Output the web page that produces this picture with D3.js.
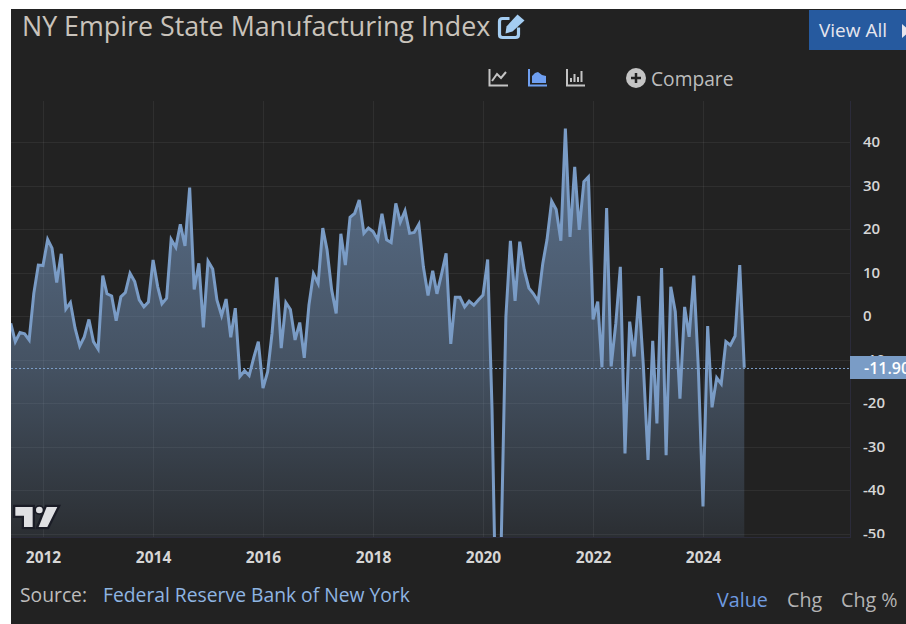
<!DOCTYPE html>
<html>
<head>
<meta charset="utf-8">
<script src="https://cdn.jsdelivr.net/npm/d3@7"></script>
<style>
  html, body { margin: 0; padding: 0; background: #fff; overflow: hidden; }
  svg { display: block; }
  text { font-family: "Open Sans", sans-serif; }
  .y-axis text { font-weight: 600; font-size: 15px; fill: #d6d6d6; }
  .x-axis text { font-weight: 700; font-size: 15.5px; fill: #d6d6d6; }
  .y-axis path, .y-axis line, .x-axis path, .x-axis line { display: none; }
</style>
</head>
<body>
<div id="chart"></div>
<script>
// monthly readings, first one is June 2011
let startMonth = new Date(Date.UTC(2011, 5, 1));
let indexValues = [
  -1.7, -5.9, -3.8, -4.1, -5.5, 5.2, 11.7,
  11.6, 17.6, 15.6, 7.7, 14.3, 1.6, 3.1, -2.8, -6.9, -4.8, -0.8, -5.9,
  -7.6, 9.3, 5.1, 4.6, -1.1, 4.4, 5.4, 9.8, 7.9, 3.7, 2.1, 3.2,
  12.9, 6.7, 2.8, 4.1, 17.6, 15.8, 21.1, 16.1, 29.5, 6.1, 12.1, -2.6,
  12.6, 10.8, 3.7, 0.1, 3.9, -4.9, 1.8, -13.9, -12.6, -13.7, -9.5, -5.9,
  -16.6, -12.8, -4.0, 8.9, -7.4, 3.1, 1.5, -5.5, -1.5, -9.6, 2.5, 9.7,
  7.5, 20.2, 15.3, 6.0, 0.6, 18.9, 11.7, 22.7, 23.6, 26.7, 19.0, 20.2,
  19.4, 17.5, 23.5, 17.5, 16.9, 25.9, 21.6, 24.2, 19.0, 19.2, 21.1, 11.3,
  4.7, 10.4, 5.1, 9.7, 14.4, -6.4, 4.3, 4.3, 2.1, 3.4, 2.5, 3.7,
  4.8, 13.0, -21.5, -78.0, -52.0, -0.2, 17.3, 3.5, 17.1, 10.6, 6.4, 5.1,
  3.4, 12.1, 17.5, 26.4, 24.5, 17.3, 43.1, 18.2, 34.3, 19.8, 30.9, 32.0,
  -0.8, 3.3, -11.8, 24.8, -11.6, -1.7, 11.3, -31.6, -1.3, -9.3, 4.6, -11.5,
  -33.1, -5.7, -24.7, 11.0, -32.0, 6.7, 1.0, -19.0, 2.1, -4.8, 9.3, -12.0,
  -43.8, -2.3, -21.0, -14.2, -15.6, -5.9, -6.7, -4.6, 11.7, -11.9
];
let yearTicks = [2012, 2014, 2016, 2018, 2020, 2022, 2024];
let valueTicks = [40, 30, 20, 10, 0, -10, -20, -30, -40, -50];
let lastValue = -11.9;
let toggleLabels = ["Value", "Chg", "Chg %"];

let data = indexValues.map((v, i) => ({
  date: d3.utcMonth.offset(startMonth, i),
  value: v
}));

let width = 906, height = 624;
let plot = { left: 11, right: 850, top: 101, bottom: 538 };
let lineColor = "#7a9cc6";

let xScale = d3.scaleUtc()
  .domain([new Date(Date.UTC(2012, 0, 1)), new Date(Date.UTC(2024, 0, 1))])
  .range([43, 703]);
let yScale = d3.scaleLinear()
  .domain([0, 40])
  .range([316, 142]);

let svg = d3.select("#chart").append("svg")
  .attr("width", width)
  .attr("height", height);

// panel
svg.append("rect")
  .attr("x", 11).attr("y", 9)
  .attr("width", width - 11).attr("height", height - 9)
  .attr("fill", "#222222");

let defs = svg.append("defs");
defs.append("clipPath").attr("id", "plot-clip")
  .append("rect")
  .attr("x", plot.left).attr("y", plot.top)
  .attr("width", plot.right - plot.left).attr("height", plot.bottom - plot.top);
defs.append("clipPath").attr("id", "axis-clip")
  .append("rect")
  .attr("x", plot.right).attr("y", plot.top)
  .attr("width", width - plot.right).attr("height", plot.bottom - plot.top);

let gradient = defs.append("linearGradient")
  .attr("id", "area-fill")
  .attr("gradientUnits", "userSpaceOnUse")
  .attr("x1", 0).attr("x2", 0)
  .attr("y1", 130).attr("y2", plot.bottom);
gradient.append("stop").attr("offset", 0).attr("stop-color", lineColor).attr("stop-opacity", 0.65);
gradient.append("stop").attr("offset", 0.565).attr("stop-color", lineColor).attr("stop-opacity", 0.4);
gradient.append("stop").attr("offset", 1).attr("stop-color", lineColor).attr("stop-opacity", 0.1);

// grid
let grid = svg.append("g").attr("class", "grid");
grid.selectAll(".h")
  .data(valueTicks)
  .join("line")
  .attr("class", "h")
  .attr("x1", plot.left).attr("x2", plot.right)
  .attr("y1", d => Math.round(yScale(d)) + 0.5)
  .attr("y2", d => Math.round(yScale(d)) + 0.5)
  .attr("stroke", "#ffffff").attr("stroke-opacity", 0.06);
grid.selectAll(".v")
  .data(yearTicks)
  .join("line")
  .attr("class", "v")
  .attr("y1", plot.top).attr("y2", plot.bottom)
  .attr("x1", d => Math.round(xScale(new Date(Date.UTC(d, 0, 1)))) + 0.5)
  .attr("x2", d => Math.round(xScale(new Date(Date.UTC(d, 0, 1)))) + 0.5)
  .attr("stroke", "#ffffff").attr("stroke-opacity", 0.06);

// series
let series = svg.append("g").attr("clip-path", "url(#plot-clip)");
series.append("path")
  .datum(data)
  .attr("fill", "url(#area-fill)")
  .attr("d", d3.area()
    .x(d => xScale(d.date))
    .y0(plot.bottom)
    .y1(d => yScale(d.value)));
series.append("path")
  .datum(data)
  .attr("fill", "none")
  .attr("stroke", lineColor)
  .attr("stroke-width", 3)
  .attr("stroke-linejoin", "miter")
  .attr("d", d3.line()
    .x(d => xScale(d.date))
    .y(d => yScale(d.value)));

// last value line
svg.append("line")
  .attr("x1", plot.left).attr("x2", plot.right)
  .attr("y1", Math.round(yScale(lastValue)) + 0.5)
  .attr("y2", Math.round(yScale(lastValue)) + 0.5)
  .attr("stroke", lineColor)
  .attr("stroke-dasharray", "2 2");

// pane borders
svg.append("line")
  .attr("x1", plot.right + 0.5).attr("x2", plot.right + 0.5)
  .attr("y1", plot.top).attr("y2", plot.bottom)
  .attr("stroke", "#2b2b3a");
svg.append("line")
  .attr("x1", plot.left).attr("x2", plot.right)
  .attr("y1", plot.bottom - 0.5).attr("y2", plot.bottom - 0.5)
  .attr("stroke", "#2b2b3a");

// axes
let yAxis = d3.axisRight(yScale)
  .tickValues(valueTicks)
  .tickFormat(d => d)
  .tickSize(0)
  .tickPadding(0);
svg.append("g")
  .attr("class", "y-axis")
  .attr("clip-path", "url(#axis-clip)")
  .append("g")
  .attr("transform", "translate(863, 0)")
  .call(yAxis);

let xAxis = d3.axisBottom(xScale)
  .tickValues(yearTicks.map(y => new Date(Date.UTC(y, 0, 1))))
  .tickFormat(d3.utcFormat("%Y"))
  .tickSize(0)
  .tickPadding(0);
svg.append("g")
  .attr("class", "x-axis")
  .attr("transform", "translate(0, 552)")
  .call(xAxis);

// last value label
svg.append("rect")
  .attr("x", plot.right).attr("y", 356)
  .attr("width", width - plot.right).attr("height", 23)
  .attr("fill", lineColor);
svg.append("text")
  .attr("x", 864).attr("y", 373.5)
  .attr("fill", "#ffffff")
  .attr("font-size", 16).attr("font-weight", 600)
  .text(lastValue.toFixed(2));

// TradingView mark
let logo = svg.append("g").attr("transform", "translate(0, 495) scale(0.3333)");
let logoShapes = [
  "M46 36H98V96H72V62H46Z",
  "M140 36H172L142 96H116Z"
];
logo.selectAll("path.outline")
  .data(logoShapes)
  .join("path")
  .attr("class", "outline")
  .attr("d", d => d)
  .attr("fill", "#1a1c26").attr("stroke", "#1a1c26").attr("stroke-width", 14);
logo.append("circle").attr("cx", 118).attr("cy", 45).attr("r", 10)
  .attr("fill", "#dfe0e3").attr("stroke", "#1a1c26").attr("stroke-width", 10).attr("paint-order", "stroke");
logo.selectAll("path.shape")
  .data(logoShapes)
  .join("path")
  .attr("class", "shape")
  .attr("d", d => d)
  .attr("fill", "#dfe0e3");

// header
svg.append("text")
  .attr("x", 22).attr("y", 36)
  .attr("fill", "#c9c3bb")
  .attr("font-size", 26.8)
  .text("NY Empire State Manufacturing Index");

// edit icon
let edit = svg.append("g").attr("transform", "translate(497.5, 13.5)");
edit.append("path")
  .attr("d", "M12 5H5Q2 5 2 8V21Q2 24 5 24H18Q21 24 21 21V14")
  .attr("fill", "none").attr("stroke", "#a4cdf2").attr("stroke-width", 3.2);
edit.append("path")
  .attr("d", "M9 13L20 1L27 7L15 18L8 20Z")
  .attr("fill", "#a4cdf2");

// view all button
svg.append("rect")
  .attr("x", 809).attr("y", 10)
  .attr("width", width - 809).attr("height", 40)
  .attr("fill", "#265a9f");
svg.append("text")
  .attr("x", 819).attr("y", 37)
  .attr("fill", "#e6e6ee")
  .attr("font-size", 19)
  .text("View All");
svg.append("path")
  .attr("d", "M902 24L910 31L902 38Z")
  .attr("fill", "#e6e6ee");

// chart type icons
let iconGrey = "#c4c4c4", iconBlue = "#6f9ff0";
svg.append("path")
  .attr("d", "M489.5 69V85.5H508M492 81L497 74L501 78L506 72")
  .attr("fill", "none").attr("stroke", iconGrey).attr("stroke-width", 2);
svg.append("path")
  .attr("d", "M529 69V85.5H547")
  .attr("fill", "none").attr("stroke", iconBlue).attr("stroke-width", 2);
svg.append("path")
  .attr("d", "M532 83V76L535 73L538 72L542 75L546 76V83Z")
  .attr("fill", iconBlue);
svg.append("path")
  .attr("d", "M567 69V85.5H585M571 82V78M574.5 82V74M578 82V77M581.5 82V71")
  .attr("fill", "none").attr("stroke", iconGrey).attr("stroke-width", 2);

svg.append("circle").attr("cx", 636).attr("cy", 78).attr("r", 10).attr("fill", "#c4c4c4");
svg.append("path")
  .attr("d", "M631 78H641M636 73V83")
  .attr("stroke", "#222222").attr("stroke-width", 2.5);
svg.append("text")
  .attr("x", 651).attr("y", 85.5)
  .attr("fill", "#bdbdbd")
  .attr("font-size", 19.2)
  .text("Compare");

// footer
svg.append("text")
  .attr("x", 20).attr("y", 601.5)
  .attr("fill", "#bdbdbd")
  .attr("font-size", 19.3)
  .text("Source:");
svg.append("text")
  .attr("x", 103).attr("y", 601.5)
  .attr("fill", "#8fb5e2")
  .attr("font-size", 19.3)
  .text("Federal Reserve Bank of New York");

let toggleX = [717, 787, 841];
svg.selectAll(".toggle")
  .data(toggleLabels)
  .join("text")
  .attr("class", "toggle")
  .attr("x", (d, i) => toggleX[i])
  .attr("y", 607)
  .attr("fill", (d, i) => i === 0 ? "#6f9be0" : "#b4b4b4")
  .attr("font-size", 19.7)
  .text(d => d);
</script>
</body>
</html>
